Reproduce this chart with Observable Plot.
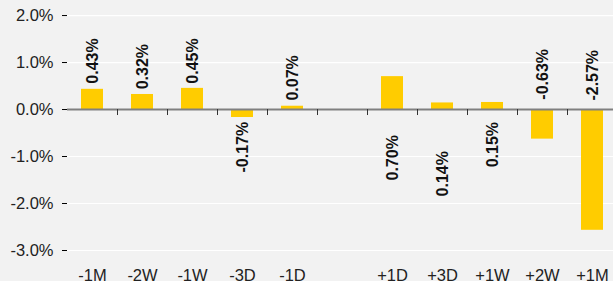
<!DOCTYPE html>
<html>
<head>
<meta charset="utf-8">
<script src="https://cdn.jsdelivr.net/npm/d3@7"></script>
<script src="https://cdn.jsdelivr.net/npm/@observablehq/plot@0.6"></script>
<style>
  html, body { margin: 0; padding: 0; background: #f2f2f2; }
  #chart { width: 613px; height: 281px; overflow: hidden; }
  svg { display: block; }
</style>
</head>
<body>
<div id="chart"></div>
<script>
const categories = ["-1M", "-2W", "-1W", "-3D", "-1D", " ", "+1D", "+3D", "+1W", "+2W", "+1M"];
const values = [0.43, 0.32, 0.45, -0.17, 0.07, null, 0.70, 0.14, 0.15, -0.63, -2.57];
const labelAt = [0.55, 0.43, 0.55, -1.34, 0.19, null, -1.51, -1.85, -1.23, 0.21, 0.19];
const yTicks = [-3, -2, -1, 0, 1, 2];

const data = categories.map((c, i) => ({cat: c, value: values[i], labelAt: labelAt[i]}))
  .filter(d => d.value != null);

const font = "'Liberation Sans', Arial, Helvetica, sans-serif";

const chart = Plot.plot({
  width: 613,
  height: 281,
  marginLeft: 67,
  marginRight: 0,
  marginTop: 0,
  marginBottom: 31,
  style: {background: "#f2f2f2", fontFamily: font, overflow: "hidden"},
  x: {type: "band", domain: categories, range: [67, 617], paddingInner: 0.56, paddingOuter: 0.28},
  y: {domain: [-3, 2.32], range: [250, 0]},
  marks: [
    Plot.gridY(yTicks.filter(t => t !== 0), {stroke: "#ffffff", strokeOpacity: 1, strokeWidth: 1.2}),
    Plot.barY(data, {x: "cat", y: "value", fill: "#ffcc00"}),
    Plot.ruleY([0], {stroke: "#808080", strokeWidth: 2}),
    Plot.ruleX(categories.slice(0, -1), {x: d => d, y1: 0, y2: 0, dx: 25, insetTop: 0, insetBottom: -6, stroke: "#333333", strokeWidth: 1}),
    Plot.axisY(yTicks, {
      tickSize: 5, tickPadding: 9, line: true, stroke: "#000000",
      tickFormat: d => d.toFixed(1) + "%", fontSize: 16.5, fill: "#222222", label: null
    }),
    Plot.axisX({
      tickSize: 0, tickPadding: 19, fontSize: 16.5, fill: "#222222", label: null
    }),
    Plot.text(data, {
      x: "cat", y: "labelAt", text: d => d.value.toFixed(2) + "%",
      rotate: -90, textAnchor: "start", fontWeight: "bold", fontSize: 16, fill: "#111111"
    })
  ]
});
document.getElementById("chart").appendChild(chart);
</script>
</body>
</html>
